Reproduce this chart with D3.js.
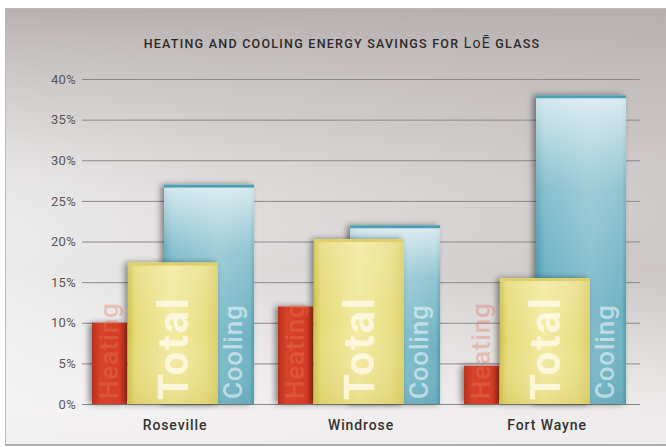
<!DOCTYPE html>
<html>
<head>
<meta charset="utf-8">
<script src="https://cdn.jsdelivr.net/npm/d3@7"></script>
<style>
  html, body { margin: 0; padding: 0; background: #fff; }
  svg { display: block; }
</style>
</head>
<body>
<svg id="chart" width="666" height="447"></svg>
<script>
// ---- data ----
const cities = ["Roseville", "Windrose", "Fort Wayne"];
const heating = [10, 12, 4.7];
const total = [17.4, 20.3, 15.5];
const cooling = [27, 22, 38];
const yTicks = [0, 5, 10, 15, 20, 25, 30, 35, 40];
const seriesLabels = { heating: "Heating", total: "Total", cooling: "Cooling" };
const titleMain = "HEATING AND COOLING ENERGY SAVINGS FOR ";
const titleBrand = "LoĒ";
const titleEnd = " GLASS";

const svg = d3.select("#chart");
const defs = svg.append("defs");

function linGrad(id, x1, y1, x2, y2, stops) {
  const g = defs.append("linearGradient").attr("id", id)
    .attr("x1", x1).attr("y1", y1).attr("x2", x2).attr("y2", y2);
  stops.forEach(s => g.append("stop").attr("offset", s[0]).attr("stop-color", s[1]).attr("stop-opacity", s[2] == null ? 1 : s[2]));
}
linGrad("bgH", 0, 0, 1, 0, [[0, "#ecebeb"], [0.35, "#dedbdb"], [1, "#cbc5c5"]]);
linGrad("bgTop", 0, 0, 0, 1, [[0, "#b5aeae", 0.95], [0.28, "#c4bdbd", 0.4], [0.6, "#ffffff", 0], [0.93, "#f6f4f4", 0.8], [1, "#f2f0f0", 0.9]]);
linGrad("redG", 0, 0, 1, 0, [[0, "#b8301c"], [0.25, "#d8432a"], [0.8, "#d63e26"], [1, "#c3361f"]]);
linGrad("yelG", 0, 0, 1, 0, [[0, "#cfc14c"], [0.08, "#e6da78"], [0.5, "#f2ea9f"], [0.85, "#e9df86"], [1, "#dccf68"]]);
linGrad("yelV", 0, 0, 0, 1, [[0, "#ffffff", 0.15], [0.5, "#ffffff", 0.0], [1, "#c9b94a", 0.25]]);
linGrad("bluG", 0, 0, 1, 0, [[0, "#3f93a8"], [0.1, "#62adc0"], [0.6, "#7fbccb"], [0.95, "#6fb2c3"], [1, "#4d9db1"]]);
linGrad("bluV", 0, 0, 0, 1, [[0, "#ffffff", 0.75], [0.3, "#ffffff", 0.25], [0.7, "#ffffff", 0.0], [1, "#2f8095", 0.15]]);

const shadow = defs.append("filter").attr("id", "sh").attr("x", "-30%").attr("y", "-10%").attr("width", "160%").attr("height", "120%");
shadow.append("feGaussianBlur").attr("in", "SourceAlpha").attr("stdDeviation", 3).attr("result", "b");
shadow.append("feOffset").attr("in", "b").attr("dx", -3).attr("dy", 0).attr("result", "o");
shadow.append("feComponentTransfer").attr("in", "o").attr("result", "o2")
  .append("feFuncA").attr("type", "linear").attr("slope", 0.45);
const mg = shadow.append("feMerge");
mg.append("feMergeNode").attr("in", "o2");
mg.append("feMergeNode").attr("in", "SourceGraphic");

// ---- panel ----
svg.append("rect").attr("x", 5.5).attr("y", 8.5).attr("width", 662).attr("height", 436)
  .attr("fill", "url(#bgH)").attr("stroke", "#bdb8b8");
svg.append("rect").attr("x", 6).attr("y", 9).attr("width", 660).attr("height", 435)
  .attr("fill", "url(#bgTop)");
svg.append("line").attr("x1", 5).attr("x2", 666).attr("y1", 445).attr("y2", 445).attr("stroke", "#a9b0b4").attr("stroke-width", 2);

// ---- scales ----
const y = d3.scaleLinear().domain([0, 40]).range([404, 79]);
const x = d3.scaleBand().domain(cities).range([82, 640]).padding(0);
const inner = d3.scaleLinear().domain([0, 1]).range([0, x.bandwidth()]);
const span = { heating: [0.054, 0.242], total: [0.247, 0.731], cooling: [0.441, 0.925] };

// ---- grid + y axis ----
const yAxis = d3.axisLeft(y).tickValues(yTicks).tickSize(-(640 - 82)).tickPadding(6).tickFormat(d => d + "%");
const ga = svg.append("g").attr("transform", "translate(82,0)").call(yAxis);
ga.select(".domain").remove();
ga.selectAll(".tick line").attr("stroke", "#8d8888").attr("stroke-width", 1).attr("x1", 0);
ga.selectAll(".tick text").attr("fill", "#5a5656").attr("font-family", "Roboto, sans-serif")
  .attr("font-size", 13).attr("letter-spacing", 0.3);

// ---- x axis labels ----
const xAxis = d3.axisBottom(x).tickSize(0).tickPadding(0);
const gx = svg.append("g").attr("transform", "translate(0,420)").call(xAxis);
gx.select(".domain").remove();
gx.selectAll(".tick text").attr("fill", "#333").attr("font-family", "Roboto, sans-serif")
  .attr("font-size", 14).attr("font-weight", 500).attr("letter-spacing", 0.9).attr("dy", "0.7em");

// ---- bars ----
const rows = cities.map((c, i) => ({ city: c, heating: heating[i], total: total[i], cooling: cooling[i] }));
const bx = (d, k) => x(d.city) + inner(span[k][0]);
const bw = k => inner(span[k][1]) - inner(span[k][0]);

function drawBars(k, fill, overlay) {
  const g = svg.append("g");
  g.selectAll("rect.b").data(rows).join("rect").attr("class", "b")
    .attr("x", d => bx(d, k)).attr("width", bw(k))
    .attr("y", d => y(d[k])).attr("height", d => y(0) - y(d[k]))
    .attr("fill", fill).attr("filter", "url(#sh)");
  if (overlay) {
    g.selectAll("rect.o").data(rows).join("rect").attr("class", "o")
      .attr("x", d => bx(d, k)).attr("width", bw(k))
      .attr("y", d => y(d[k])).attr("height", d => y(0) - y(d[k]))
      .attr("fill", overlay);
  }
  return g;
}

const gCool = drawBars("cooling", "url(#bluG)", "url(#bluV)");
gCool.selectAll("rect.t").data(rows).join("rect").attr("class", "t")
  .attr("x", d => bx(d, "cooling")).attr("width", bw("cooling"))
  .attr("y", d => y(d.cooling)).attr("height", 3).attr("fill", "#4d9fb3");
gCool.selectAll("text").data(rows).join("text")
  .attr("transform", d => `translate(${bx(d, "cooling") + bw("cooling") - 12},${y(0) - 5}) rotate(-90)`)
  .attr("font-family", "Roboto, sans-serif").attr("font-size", 26).attr("font-weight", 500)
  .attr("letter-spacing", 0.8)
  .attr("fill", "#e6f3f6").attr("fill-opacity", 0.65).text(seriesLabels.cooling);

const gHeat = drawBars("heating", "url(#redG)", null);
gHeat.selectAll("text").data(rows).join("text")
  .attr("transform", d => `translate(${bx(d, "heating") + bw("heating") - 9},${y(0) - 5}) rotate(-90)`)
  .attr("font-family", "Roboto, sans-serif").attr("font-size", 26).attr("font-weight", 500)
  .attr("letter-spacing", 0.8)
  .attr("fill", "#e07a62").attr("fill-opacity", 0.38).text(seriesLabels.heating);

const gTot = drawBars("total", "url(#yelG)", "url(#yelV)");
gTot.selectAll("rect.t").data(rows).join("rect").attr("class", "t")
  .attr("x", d => bx(d, "total")).attr("width", bw("total"))
  .attr("y", d => y(d.total)).attr("height", 3).attr("fill", "#ddd06a");
gTot.selectAll("text").data(rows).join("text")
  .attr("transform", d => `translate(${bx(d, "total") + bw("total") / 2 + 15},${y(0) - 4}) rotate(-90)`)
  .attr("font-family", "Roboto, sans-serif").attr("font-size", 42).attr("font-weight", 700)
  .attr("letter-spacing", 2)
  .attr("fill", "#fffbe8").attr("fill-opacity", 0.85).text(seriesLabels.total);

// ---- title ----
const t = svg.append("text").attr("x", 342).attr("y", 48).attr("text-anchor", "middle")
  .attr("font-family", "Roboto, sans-serif").attr("font-size", 12.5).attr("font-weight", 500)
  .attr("letter-spacing", 1.25).attr("fill", "#2e2a2a");
t.append("tspan").text(titleMain);
t.append("tspan").attr("font-size", 14).attr("font-weight", 400).text(titleBrand);
t.append("tspan").text(titleEnd);
</script>
</body>
</html>
